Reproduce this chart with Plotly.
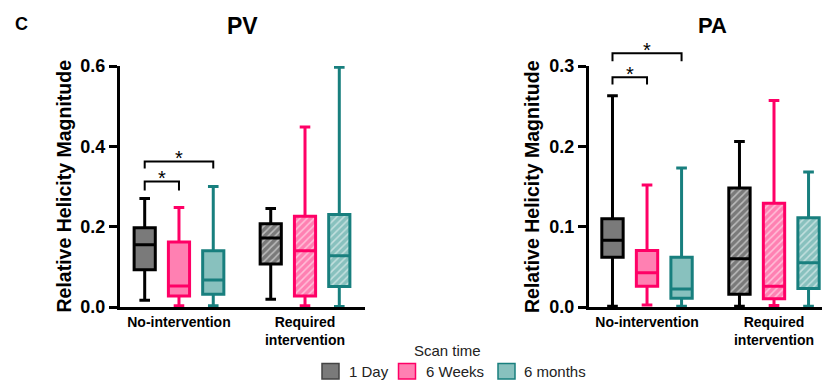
import plotly.graph_objects as go

# ---- data -------------------------------------------------------------
groups = ["No-intervention", "Required<br>intervention"]
times = ["1 Day", "6 Weeks", "6 months"]

# order: No-intervention (1 Day, 6 Weeks, 6 months), Required intervention (1 Day, 6 Weeks, 6 months)
pv_lower = [0.017, 0.003, 0.003, 0.019, 0.003, 0.001]
pv_q1 = [0.093, 0.0275, 0.032, 0.107, 0.0275, 0.051]
pv_median = [0.155, 0.0525, 0.0675, 0.172, 0.140, 0.1275]
pv_q3 = [0.197, 0.162, 0.140, 0.207, 0.226, 0.230]
pv_upper = [0.270, 0.248, 0.300, 0.245, 0.448, 0.597]

pa_lower = [0.001, 0.0025, 0.001, 0.001, 0.002, 0.001]
pa_q1 = [0.062, 0.0258, 0.011, 0.016, 0.0104, 0.023]
pa_median = [0.083, 0.0425, 0.0225, 0.060, 0.0258, 0.055]
pa_q3 = [0.110, 0.0704, 0.062, 0.148, 0.129, 0.111]
pa_upper = [0.263, 0.152, 0.173, 0.206, 0.257, 0.168]

pv_ticks = [0.0, 0.2, 0.4, 0.6]
pa_ticks = [0.0, 0.1, 0.2, 0.3]

# significance brackets: (from time index, to time index, leg end, bracket top)
pv_sig = [(0, 1, 0.290, 0.3125), (0, 2, 0.345, 0.3625)]
pa_sig = [(0, 1, 0.277, 0.286), (0, 2, 0.306, 0.316)]

# ---- styling ----------------------------------------------------------
W, H = 824, 380
FONT = "Liberation Sans, Arial, Helvetica, sans-serif"
line_colors = ["#000000", "#ff0066", "#187f7e"]
fill_colors = ["#7a7a7a", "#ff80b2", "#88c1be"]
OFFSET = 0.272
BOX_W = 0.168


def px_x(p):
    return p / W


def px_y(p):
    return 1 - p / H


panels = [
    dict(name="PV", xa="x", ya="y", xdom=[px_x(120), px_x(365)], yrng=[0, 0.6],
         xrng=[-0.468, 1.476], ticks=pv_ticks,
         stats=(pv_lower, pv_q1, pv_median, pv_q3, pv_upper), sig=pv_sig),
    dict(name="PA", xa="x2", ya="y2", xdom=[px_x(589), px_x(822)], yrng=[0, 0.3],
         xrng=[-0.457, 1.378], ticks=pa_ticks,
         stats=(pa_lower, pa_q1, pa_median, pa_q3, pa_upper), sig=pa_sig),
]
ydom = [px_y(307), px_y(66)]

fig = go.Figure()

for p in panels:
    lower, q1, med, q3, upper = p["stats"]
    for k, t in enumerate(times):
        idx = [k, k + 3]
        pos = [g + (k - 1) * OFFSET for g in range(len(groups))]
        # box body fill (solid for no-intervention, hatched for required intervention)
        fig.add_trace(go.Bar(
            x=pos, base=[q1[i] for i in idx], y=[q3[i] - q1[i] for i in idx],
            width=BOX_W, xaxis=p["xa"], yaxis=p["ya"],
            marker=dict(color=fill_colors[k], line=dict(width=0),
                        pattern=dict(shape=["", "/"], fgcolor="white",
                                     size=5, solidity=0.3)),
            showlegend=False, hoverinfo="skip"))
        fig.add_trace(go.Box(
            x=pos, q1=[q1[i] for i in idx], median=[med[i] for i in idx],
            q3=[q3[i] for i in idx], lowerfence=[lower[i] for i in idx],
            upperfence=[upper[i] for i in idx],
            width=BOX_W, whiskerwidth=0.5, xaxis=p["xa"], yaxis=p["ya"],
            line=dict(color=line_colors[k], width=3),
            fillcolor="rgba(0,0,0,0)", boxpoints=False,
            showlegend=False, hoverinfo="skip", name=t))

axis_font = dict(family=FONT, size=18, color="black", weight="bold")
layout = dict(
    width=W, height=H, autosize=False,
    margin=dict(l=0, r=0, t=0, b=0, pad=0, autoexpand=False),
    plot_bgcolor="white", paper_bgcolor="white",
    barmode="overlay", boxmode="overlay", showlegend=False,
    font=dict(family=FONT, color="black"),
    title=dict(text=""),
)
for j, p in enumerate(panels):
    sfx = "" if j == 0 else str(j + 1)
    layout["xaxis" + sfx] = dict(
        domain=p["xdom"], range=p["xrng"], anchor=p["ya"], automargin=False,
        showline=True, linewidth=3, linecolor="black",
        ticks="", tickvals=[0, 1], ticktext=groups,
        tickfont=dict(family=FONT, size=14, color="black", weight="bold"),
        showgrid=False, zeroline=False, fixedrange=True)
    layout["yaxis" + sfx] = dict(
        domain=ydom, range=p["yrng"], anchor=p["xa"], automargin=False,
        showline=True, linewidth=3, linecolor="black",
        ticks="outside", ticklen=8, tickwidth=2.5, tickcolor="black",
        tickvals=p["ticks"], ticktext=["%.1f" % v for v in p["ticks"]],
        tickfont=axis_font, showgrid=False, zeroline=False, fixedrange=True)
fig.update_layout(**layout)


def yp(v, rng):
    return ydom[0] + (v - rng[0]) / (rng[1] - rng[0]) * (ydom[1] - ydom[0])


def label(x, y, text, size, weight="normal", color="black", xanchor="center",
          angle=0, xref="paper", yshift=0):
    fig.add_annotation(x=x, y=y, xref=xref, yref="paper", text=text, showarrow=False,
                       xanchor=xanchor, yanchor="middle", textangle=angle, yshift=yshift,
                       font=dict(family=FONT, size=size, color=color, weight=weight))


# significance brackets and stars
for p in panels:
    for a, b, leg, top in p["sig"]:
        xa_, xb_ = (a - 1) * OFFSET, (b - 1) * OFFSET
        y_leg, y_top = yp(leg, p["yrng"]), yp(top, p["yrng"])
        fig.add_shape(type="path", xref=p["xa"], yref="paper",
                      path=f"M {xa_},{y_leg} L {xa_},{y_top} L {xb_},{y_top} L {xb_},{y_leg}",
                      line=dict(color="black", width=2))
        label((xa_ + xb_) / 2, y_top, "*", 20, xref=p["xa"], yshift=3)

# panel titles, panel letter and axis titles
label(px_x(242.7), px_y(25.5), "PV", 23, "bold")
label(px_x(712), px_y(26), "PA", 22, "bold")
label(px_x(21.3), px_y(24), "C", 18, "bold")
for xc in (63, 531.5):
    label(px_x(xc), px_y(186.5), "Relative Helicity Magnitude", 19.5, "bold", angle=-90)

# legend
label(px_x(447.5), px_y(350.7), "Scan time", 15, color="#222222")
sw_left = [322, 398.5, 498]
txt_left = [347, 423.5, 522]
for k, t in enumerate(times):
    fig.add_shape(type="rect", xref="paper", yref="paper",
                  x0=px_x(sw_left[k]), x1=px_x(sw_left[k] + 17),
                  y0=px_y(379), y1=px_y(363.5),
                  line=dict(color=line_colors[k] if k else "#444444", width=1.5),
                  fillcolor=fill_colors[k])
    label(px_x(txt_left[k]), px_y(371.5), t, 15, color="#222222", xanchor="left")

fig.write_html("out.html")
